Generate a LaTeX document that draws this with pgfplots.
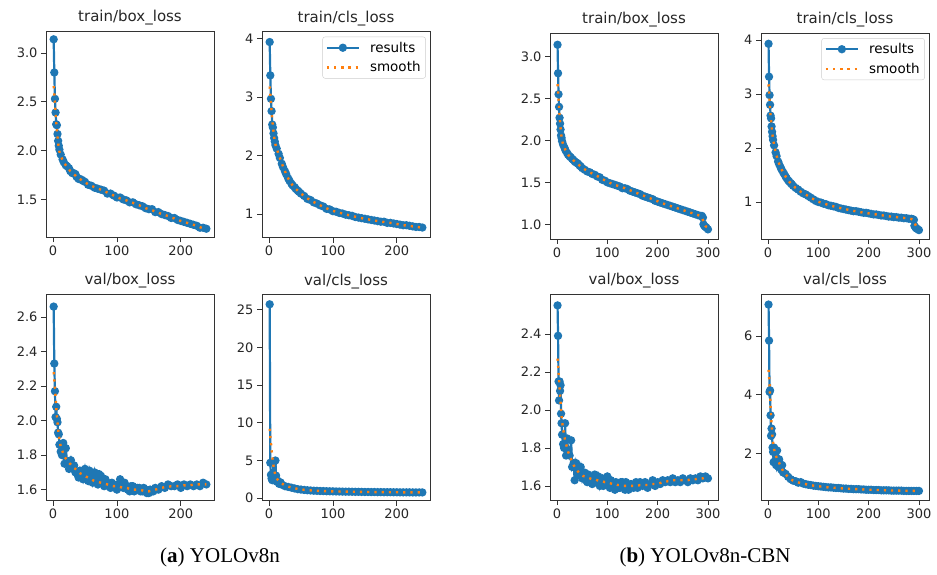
\documentclass[border=0pt]{standalone}
\usepackage{fontspec}
\setmainfont{DejaVu Sans}
\newfontfamily\capfont{Liberation Serif}
\usepackage{pgfplots}
\usepackage{pgfplotstable}
\pgfplotsset{compat=1.18}

\definecolor{mplblue}{HTML}{1F77B4}
\definecolor{mplorange}{HTML}{FF7F0E}

% epoch, results, smooth
\pgfplotstableread{
e r s
1 3.14 2.66
2 2.80 2.58
3 2.53 2.48
4 2.39 2.38
5 2.27 2.29
6 2.26 2.21
7 2.17 2.14
8 2.10 2.08
9 2.05 2.03
10 2.01 1.99
12 1.96 1.95
15 1.91 1.90
17 1.88 1.875
20 1.85 1.85
22 1.84 1.83
25 1.82 1.81
27 1.79 1.79
30 1.77 1.775
32 1.77 1.76
35 1.76 1.745
37 1.73 1.73
40 1.71 1.72
42 1.71 1.71
45 1.70 1.695
47 1.69 1.685
50 1.68 1.675
55 1.65 1.655
60 1.64 1.64
65 1.62 1.625
70 1.61 1.61
75 1.60 1.60
80 1.59 1.585
85 1.56 1.57
90 1.56 1.555
95 1.54 1.54
100 1.52 1.525
105 1.52 1.51
110 1.50 1.50
115 1.49 1.49
120 1.47 1.475
125 1.47 1.465
130 1.45 1.45
135 1.44 1.44
140 1.43 1.425
145 1.41 1.41
150 1.40 1.40
155 1.40 1.39
160 1.37 1.375
165 1.37 1.365
170 1.35 1.35
175 1.34 1.34
180 1.33 1.33
185 1.31 1.315
190 1.31 1.305
195 1.29 1.29
200 1.28 1.28
205 1.27 1.27
210 1.26 1.26
215 1.25 1.25
220 1.24 1.24
225 1.23 1.23
230 1.21 1.215
235 1.21 1.205
240 1.20 1.20
}\tAtrainbox

\pgfplotstableread{
e r s
1 3.94 3.18
2 3.37 3.05
3 2.97 2.90
4 2.76 2.76
5 2.53 2.63
6 2.48 2.51
7 2.38 2.41
8 2.30 2.32
9 2.24 2.25
10 2.18 2.19
12 2.12 2.12
15 2.03 2.02
17 1.96 1.96
20 1.86 1.87
22 1.80 1.81
25 1.73 1.73
27 1.68 1.68
30 1.61 1.61
32 1.57 1.57
35 1.52 1.52
37 1.49 1.49
40 1.46 1.455
42 1.43 1.43
45 1.40 1.40
47 1.38 1.38
50 1.35 1.35
55 1.31 1.31
60 1.26 1.27
65 1.24 1.235
70 1.20 1.205
75 1.18 1.18
80 1.15 1.15
85 1.13 1.125
90 1.09 1.10
95 1.08 1.075
100 1.05 1.055
105 1.04 1.04
110 1.02 1.025
115 1.01 1.01
120 0.99 0.995
125 0.98 0.98
130 0.97 0.97
135 0.95 0.955
140 0.94 0.945
145 0.93 0.93
150 0.92 0.92
155 0.91 0.91
160 0.90 0.90
165 0.89 0.89
170 0.88 0.88
175 0.87 0.87
180 0.87 0.865
185 0.85 0.855
190 0.85 0.85
195 0.84 0.84
200 0.83 0.83
205 0.82 0.82
210 0.81 0.81
215 0.81 0.805
220 0.80 0.80
225 0.79 0.79
230 0.78 0.785
235 0.78 0.775
240 0.77 0.77
}\tAtraincls

\pgfplotstableread{
e r s
1 2.66 2.28
2 2.33 2.24
3 2.17 2.19
4 2.02 2.13
5 2.08 2.08
6 2.01 2.03
7 1.99 1.99
8 1.93 1.95
9 1.92 1.92
10 1.86 1.89
12 1.82 1.85
14 1.80 1.83
16 1.87 1.81
18 1.75 1.79
20 1.84 1.78
22 1.76 1.77
25 1.72 1.755
28 1.77 1.745
30 1.73 1.735
33 1.74 1.725
35 1.70 1.72
38 1.69 1.71
40 1.67 1.70
42 1.71 1.695
45 1.69 1.69
47 1.66 1.685
50 1.72 1.68
52 1.68 1.675
55 1.65 1.67
57 1.71 1.665
60 1.67 1.66
62 1.64 1.655
65 1.70 1.65
67 1.66 1.648
70 1.63 1.645
72 1.69 1.643
75 1.68 1.64
77 1.64 1.638
80 1.62 1.635
82 1.66 1.633
85 1.64 1.63
87 1.62 1.628
90 1.61 1.625
92 1.64 1.622
95 1.63 1.62
97 1.61 1.62
100 1.60 1.62
102 1.63 1.618
105 1.66 1.615
107 1.62 1.613
110 1.61 1.61
112 1.64 1.61
115 1.62 1.61
117 1.60 1.608
120 1.59 1.605
122 1.62 1.603
125 1.62 1.60
127 1.59 1.60
130 1.60 1.60
132 1.61 1.60
135 1.61 1.60
137 1.59 1.598
140 1.59 1.595
142 1.61 1.593
145 1.60 1.59
147 1.58 1.59
150 1.58 1.59
152 1.60 1.592
155 1.59 1.595
157 1.59 1.597
160 1.61 1.60
165 1.60 1.605
170 1.62 1.61
175 1.61 1.615
180 1.63 1.615
185 1.62 1.62
190 1.62 1.62
195 1.63 1.62
200 1.61 1.62
205 1.63 1.625
210 1.62 1.625
215 1.63 1.625
220 1.62 1.63
225 1.63 1.63
230 1.62 1.63
235 1.64 1.63
240 1.63 1.63
}\tAvalbox

\pgfplotstableread{
e r s
1 25.7 9.2
2 4.7 8.2
3 3.1 7.3
4 2.6 6.4
5 2.4 5.6
6 3.3 4.9
7 4.7 4.3
8 2.9 3.8
9 2.6 3.4
10 5.0 3.1
11 3.0 2.85
12 2.2 2.65
14 2.3 2.4
16 1.9 2.2
18 2.1 2.05
20 1.8 1.95
25 1.6 1.72
30 1.5 1.55
35 1.4 1.42
40 1.3 1.32
45 1.2 1.24
50 1.15 1.17
55 1.10 1.12
60 1.06 1.08
65 1.03 1.04
70 1.00 1.01
75 0.98 0.99
80 0.96 0.97
85 0.95 0.95
90 0.93 0.94
95 0.92 0.92
100 0.91 0.91
105 0.90 0.90
110 0.89 0.89
115 0.88 0.88
120 0.87 0.87
125 0.87 0.865
130 0.86 0.86
135 0.85 0.855
140 0.85 0.85
145 0.84 0.84
150 0.83 0.835
155 0.83 0.83
160 0.82 0.82
165 0.82 0.815
170 0.81 0.81
175 0.81 0.805
180 0.80 0.80
185 0.80 0.80
190 0.80 0.795
195 0.79 0.79
200 0.79 0.79
205 0.78 0.785
210 0.78 0.78
215 0.78 0.78
220 0.78 0.775
225 0.77 0.775
230 0.77 0.77
235 0.77 0.77
240 0.77 0.77
}\tAvalcls

\pgfplotstableread{
e r s
1 3.14 2.67
2 2.80 2.59
3 2.55 2.49
4 2.40 2.39
5 2.27 2.30
6 2.20 2.22
7 2.13 2.15
8 2.06 2.09
9 2.03 2.04
10 1.99 2.00
12 1.95 1.95
15 1.91 1.91
17 1.88 1.88
20 1.85 1.85
22 1.83 1.83
25 1.81 1.81
27 1.80 1.795
30 1.78 1.78
32 1.77 1.765
35 1.75 1.75
37 1.74 1.74
40 1.73 1.725
42 1.72 1.715
45 1.70 1.70
47 1.69 1.69
50 1.67 1.675
55 1.65 1.655
60 1.63 1.635
65 1.62 1.62
70 1.60 1.605
75 1.59 1.59
80 1.57 1.575
85 1.56 1.56
90 1.53 1.54
95 1.52 1.525
100 1.50 1.51
105 1.49 1.495
110 1.48 1.48
115 1.47 1.47
120 1.46 1.46
125 1.45 1.45
130 1.43 1.44
135 1.43 1.43
140 1.42 1.415
145 1.40 1.405
150 1.39 1.395
155 1.38 1.38
160 1.37 1.37
165 1.36 1.355
170 1.34 1.345
175 1.33 1.335
180 1.32 1.32
185 1.31 1.31
190 1.30 1.30
195 1.28 1.285
200 1.27 1.275
205 1.26 1.26
210 1.25 1.25
215 1.24 1.24
220 1.23 1.23
225 1.22 1.22
230 1.21 1.21
235 1.20 1.20
240 1.19 1.19
245 1.18 1.18
250 1.17 1.17
255 1.16 1.16
260 1.15 1.15
265 1.14 1.14
270 1.13 1.13
275 1.12 1.12
280 1.11 1.11
285 1.10 1.10
288 1.10 1.08
290 1.08 1.05
291 1.00 1.03
293 0.98 1.00
295 0.97 0.98
297 0.96 0.97
300 0.94 0.96
}\tBtrainbox

\pgfplotstableread{
e r s
1 3.93 3.18
2 3.32 3.03
3 2.98 2.88
4 2.80 2.74
5 2.60 2.61
6 2.55 2.50
7 2.40 2.40
8 2.30 2.31
9 2.22 2.23
10 2.15 2.16
12 2.05 2.06
15 1.92 1.93
17 1.85 1.86
20 1.75 1.76
22 1.70 1.71
25 1.64 1.64
27 1.60 1.60
30 1.55 1.55
32 1.52 1.52
35 1.47 1.47
37 1.44 1.44
40 1.40 1.405
42 1.38 1.38
45 1.35 1.35
47 1.33 1.33
50 1.30 1.30
55 1.26 1.26
60 1.23 1.225
65 1.19 1.19
70 1.16 1.16
75 1.14 1.135
80 1.11 1.11
85 1.08 1.08
90 1.05 1.055
95 1.02 1.03
100 1.00 1.005
105 0.99 0.99
110 0.97 0.975
115 0.96 0.96
120 0.94 0.945
125 0.93 0.93
130 0.92 0.92
135 0.91 0.91
140 0.89 0.895
145 0.88 0.885
150 0.87 0.875
155 0.86 0.865
160 0.85 0.855
165 0.84 0.845
170 0.83 0.835
175 0.83 0.83
180 0.82 0.82
185 0.81 0.81
190 0.80 0.805
195 0.80 0.80
200 0.79 0.79
205 0.78 0.785
210 0.77 0.775
215 0.77 0.77
220 0.76 0.76
225 0.75 0.755
230 0.75 0.75
235 0.74 0.745
240 0.73 0.735
245 0.73 0.73
250 0.72 0.725
255 0.72 0.72
260 0.71 0.715
265 0.71 0.71
270 0.70 0.705
275 0.70 0.70
280 0.69 0.695
285 0.69 0.685
288 0.68 0.67
290 0.67 0.64
291 0.56 0.62
293 0.53 0.58
295 0.51 0.54
297 0.50 0.52
300 0.48 0.50
}\tBtraincls

\pgfplotstableread{
e r s
1 2.55 2.27
2 2.39 2.24
3 2.15 2.20
4 2.05 2.16
5 2.15 2.12
6 2.10 2.08
7 2.13 2.04
8 1.98 2.00
9 1.93 1.97
10 1.87 1.94
12 1.82 1.90
14 1.80 1.87
16 1.93 1.84
18 1.76 1.82
20 1.85 1.80
22 1.79 1.78
25 1.76 1.76
28 1.84 1.74
30 1.70 1.73
33 1.72 1.71
35 1.63 1.70
38 1.72 1.69
40 1.70 1.68
42 1.66 1.675
45 1.68 1.665
47 1.70 1.66
50 1.64 1.655
52 1.66 1.652
55 1.67 1.65
57 1.63 1.648
60 1.62 1.645
62 1.66 1.643
65 1.65 1.64
67 1.62 1.638
70 1.61 1.635
72 1.65 1.635
75 1.66 1.635
77 1.62 1.633
80 1.63 1.63
82 1.65 1.628
85 1.60 1.625
87 1.62 1.625
90 1.64 1.625
92 1.60 1.623
95 1.61 1.62
97 1.63 1.62
100 1.65 1.62
102 1.61 1.618
105 1.59 1.615
107 1.63 1.613
110 1.62 1.61
112 1.60 1.61
115 1.58 1.61
117 1.62 1.608
120 1.61 1.605
122 1.59 1.605
125 1.59 1.605
127 1.62 1.603
130 1.62 1.60
132 1.60 1.60
135 1.58 1.60
137 1.62 1.60
140 1.61 1.60
142 1.58 1.60
145 1.59 1.60
147 1.61 1.60
150 1.60 1.60
152 1.59 1.60
155 1.61 1.60
157 1.62 1.60
160 1.59 1.60
165 1.62 1.605
170 1.60 1.605
175 1.62 1.605
180 1.59 1.605
185 1.61 1.61
190 1.63 1.61
195 1.60 1.61
200 1.62 1.61
205 1.61 1.615
210 1.63 1.62
215 1.62 1.62
220 1.63 1.625
225 1.62 1.625
230 1.64 1.63
235 1.62 1.63
240 1.63 1.63
245 1.62 1.63
250 1.64 1.63
255 1.63 1.63
260 1.62 1.63
265 1.64 1.635
270 1.63 1.635
275 1.64 1.635
280 1.63 1.64
285 1.65 1.64
290 1.64 1.64
295 1.65 1.645
300 1.64 1.645
}\tBvalbox

\pgfplotstableread{
e r s
1 7.08 4.85
2 5.85 4.65
3 4.10 4.35
4 4.15 4.00
5 3.30 3.65
6 2.60 3.30
7 2.85 3.00
8 2.65 2.75
9 2.20 2.55
10 2.05 2.38
11 1.70 2.25
12 2.20 2.15
14 1.75 2.00
16 1.60 1.90
18 2.10 1.82
20 1.55 1.75
22 1.80 1.68
24 1.65 1.60
26 1.45 1.53
28 1.60 1.46
30 1.35 1.40
35 1.30 1.28
40 1.20 1.19
45 1.12 1.12
50 1.07 1.07
55 1.05 1.04
60 1.00 1.01
65 1.02 0.99
70 0.97 0.97
75 0.95 0.95
80 0.93 0.93
85 0.92 0.915
90 0.90 0.90
95 0.89 0.89
100 0.88 0.88
105 0.87 0.87
110 0.86 0.86
115 0.85 0.85
120 0.84 0.84
125 0.84 0.835
130 0.83 0.83
135 0.82 0.825
140 0.82 0.82
145 0.81 0.81
150 0.80 0.805
155 0.80 0.80
160 0.79 0.795
165 0.79 0.79
170 0.78 0.785
175 0.78 0.78
180 0.78 0.78
185 0.77 0.775
190 0.77 0.77
195 0.76 0.765
200 0.76 0.76
205 0.76 0.76
210 0.75 0.755
215 0.75 0.75
220 0.75 0.75
225 0.74 0.745
230 0.74 0.745
235 0.74 0.74
240 0.74 0.74
245 0.73 0.735
250 0.73 0.735
255 0.73 0.73
260 0.73 0.73
265 0.73 0.73
270 0.72 0.725
275 0.72 0.725
280 0.72 0.72
285 0.72 0.72
290 0.72 0.72
295 0.72 0.72
300 0.72 0.72
}\tBvalcls

\pgfplotsset{
  lossplot/.style={
    anchor=south west, scale only axis, width=168pt, height=206pt,
    clip mode=individual,
    axis line style={black!80, line width=0.8pt},
    tick align=outside, tick pos=left, major tick length=5pt,
    tick style={black!80, line width=0.8pt},
    ticklabel style={font=\fontsize{13}{15}\selectfont, text=black!85},
    /pgf/number format/assume math mode=true,
    title style={font=\fontsize{15}{17}\selectfont, text=black!85, at={(0.5,1)}, anchor=base, yshift=3.5pt},
    legend image code/.code={\draw[mark repeat=2,mark phase=2] plot coordinates {(0pt,0pt) (16pt,0pt) (32pt,0pt)}; \path (40pt,0pt);},
    legend style={at={(0.975,0.975)}, anchor=north east, draw=black!20, rounded corners=2.5pt,
      font=\fontsize{13.5}{15}\selectfont, inner sep=3pt, row sep=4pt, cells={anchor=west}},
  },
  onedec/.style={yticklabel style={/pgf/number format/fixed, /pgf/number format/fixed zerofill, /pgf/number format/precision=1}},
  res/.style={mplblue, line width=2.2pt, mark=*, mark size=3pt, mark options={solid, fill=mplblue}},
  smo/.style={mplorange, line width=2.4pt, dash pattern=on 2.2pt off 5pt, mark=none},
}

\begin{document}
\begin{tikzpicture}
\path[use as bounding box] (0pt,0pt) rectangle (937pt,574pt);

% ---- (a) YOLOv8n ----
\begin{axis}[lossplot, onedec, at={(46pt,336.5pt)}, title={train/box\_loss},
  xmin=-11, xmax=252, ymin=1.11, ymax=3.22, xtick={0,100,200}, ytick={1.5,2.0,2.5,3.0}]
\addplot[res] table[x=e,y=r] {\tAtrainbox};
\addplot[smo] table[x=e,y=s] {\tAtrainbox};
\end{axis}

\begin{axis}[lossplot, at={(262pt,336.5pt)}, title={train/cls\_loss},
  xmin=-11, xmax=252, ymin=0.60, ymax=4.12, xtick={0,100,200}, ytick={1,2,3,4}]
\addplot[res] table[x=e,y=r] {\tAtraincls};
\addplot[smo] table[x=e,y=s] {\tAtraincls};
\legend{results, smooth}
\end{axis}

\begin{axis}[lossplot, onedec, at={(46pt,73.5pt)}, title={val/box\_loss},
  xmin=-11, xmax=252, ymin=1.537, ymax=2.73, xtick={0,100,200}, ytick={1.6,1.8,2.0,2.2,2.4,2.6}]
\addplot[res] table[x=e,y=r] {\tAvalbox};
\addplot[smo] table[x=e,y=s] {\tAvalbox};
\end{axis}

\begin{axis}[lossplot, at={(262pt,73.5pt)}, title={val/cls\_loss},
  xmin=-11, xmax=252, ymin=-0.3, ymax=27, xtick={0,100,200}, ytick={0,5,10,15,20,25}]
\addplot[res] table[x=e,y=r] {\tAvalcls};
\addplot[smo] table[x=e,y=s] {\tAvalcls};
\end{axis}

% ---- (b) YOLOv8n-CBN ----
\begin{axis}[lossplot, onedec, at={(550pt,335pt)}, title={train/box\_loss},
  xmin=-14, xmax=320, ymin=0.825, ymax=3.28, xtick={0,100,200,300}, ytick={1.0,1.5,2.0,2.5,3.0}]
\addplot[res] table[x=e,y=r] {\tBtrainbox};
\addplot[smo] table[x=e,y=s] {\tBtrainbox};
\end{axis}

\begin{axis}[lossplot, at={(761pt,335pt)}, title={train/cls\_loss},
  xmin=-14, xmax=320, ymin=0.315, ymax=4.13, xtick={0,100,200,300}, ytick={1,2,3,4}]
\addplot[res] table[x=e,y=r] {\tBtraincls};
\addplot[smo] table[x=e,y=s] {\tBtraincls};
\legend{results, smooth}
\end{axis}

\begin{axis}[lossplot, onedec, at={(550pt,74pt)}, title={val/box\_loss},
  xmin=-14, xmax=320, ymin=1.526, ymax=2.61, xtick={0,100,200,300}, ytick={1.6,1.8,2.0,2.2,2.4}]
\addplot[res] table[x=e,y=r] {\tBvalbox};
\addplot[smo] table[x=e,y=s] {\tBvalbox};
\end{axis}

\begin{axis}[lossplot, at={(761pt,74pt)}, title={val/cls\_loss},
  xmin=-14, xmax=320, ymin=0.41, ymax=7.44, xtick={0,100,200,300}, ytick={2,4,6}]
\addplot[res] table[x=e,y=r] {\tBvalcls};
\addplot[smo] table[x=e,y=s] {\tBvalcls};
\end{axis}

\node[anchor=base, font=\capfont\fontsize{21}{24}\selectfont] at (220pt,12pt) {(\textbf{a}) YOLOv8n};
\node[anchor=base, font=\capfont\fontsize{21}{24}\selectfont] at (705pt,12pt) {(\textbf{b}) YOLOv8n-CBN};
\end{tikzpicture}
\end{document}
